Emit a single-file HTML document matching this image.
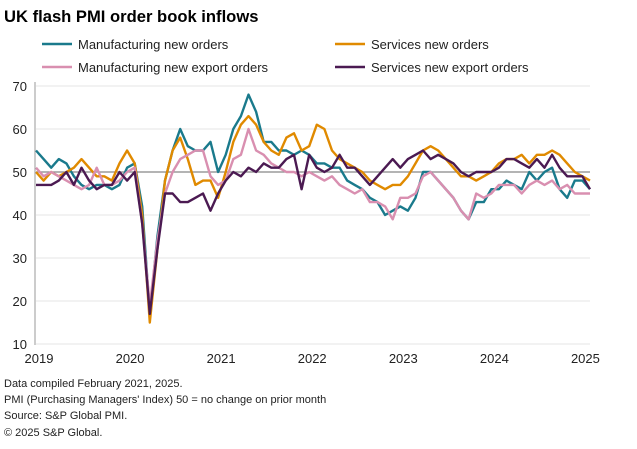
<!DOCTYPE html>
<html><head><meta charset="utf-8"><style>
body{margin:0;width:637px;height:444px;background:#fff;font-family:"Liberation Sans",Arial,sans-serif;overflow:hidden}
</style></head><body>
<svg width="637" height="444" xmlns="http://www.w3.org/2000/svg">
<text x="4" y="22" font-size="16.6" font-weight="bold" fill="#000">UK flash PMI order book inflows</text>
<g id="legend" font-size="13" fill="#222"></g>
<g id="grid"></g>
<g id="series"></g>
<g id="axes"></g>
<g font-size="11" fill="#222">
<text x="4" y="387">Data compiled February 2021, 2025.</text>
<text x="4" y="403">PMI (Purchasing Managers' Index) 50 = no change on prior month</text>
<text x="4" y="419">Source: S&amp;P Global PMI.</text>
<text x="4" y="436">© 2025 S&amp;P Global.</text>
</g>
</svg>
<script>
const yTicks=[10,20,30,40,50,60,70];
const xLabels=["2019","2020","2021","2022","2023","2024","2025"];
const seriesNames=["Manufacturing new orders","Services new orders","Manufacturing new export orders","Services new export orders"];
const mfgNewOrders=[55,53,51,53,52,49,47,46,47,47,46,47, 51,52,42,17,35,48,55,60,56,55,55,57, 50,54,60,63,68,64,57,57,55,55,54,55, 54,52,52,51,51,48,47,46,44,43,40,41, 42,41,44,50,50,48,46,44,41,39,43,43, 46,46,48,47,46,50,48,50,51,46,44,48, 48,46];
const svcNewOrders=[50,48,50,49,50,51,53,51,49,49,48,52, 55,52,40,15,32,48,55,58,53,47,48,48, 44,50,57,61,63,61,57,55,54,58,59,55, 56,61,60,55,53,52,51,50,48,47,46,47, 47,49,52,55,56,55,53,51,49,49,48,49, 50,52,53,53,54,52,54,54,55,54,52,50, 49,48];
const mfgExport=[51,49,50,49,48,47,46,47,51,47,47,48, 50,51,38,19,34,45,50,53,54,55,55,49, 47,48,53,54,60,55,54,52,51,50,50,49, 50,49,48,49,47,46,45,46,43,43,42,39, 44,44,45,49,50,48,46,44,41,39,45,44, 45,47,47,47,45,47,48,47,48,46,47,45, 45,45];
const svcExport=[47,47,47,48,50,47,51,48,46,47,47,50, 48,50,38,17,32,45,45,43,43,44,45,41, 45,48,50,49,51,50,52,51,51,53,54,46, 54,51,50,51,54,51,51,49,47,49,51,53, 51,53,54,55,53,54,53,52,50,49,50,50, 50,51,53,53,52,51,53,51,54,51,49,49, 49,46];
const colors=["#1a7a8c","#e08a00","#d98fb0","#4b1a52"];
const NS="http://www.w3.org/2000/svg";
const x0=36,x1=590,yTop=86,yBot=344;
const n=mfgNewOrders.length;
function xs(i){return x0+(x1-x0)*i/(n-1);}
function ys(v){return yBot-(v-10)/60*(yBot-yTop);}
function mk(t,a,p){const e=document.createElementNS(NS,t);for(const k in a)e.setAttribute(k,a[k]);p.appendChild(e);return e;}
const grid=document.getElementById('grid'),axes=document.getElementById('axes'),ser=document.getElementById('series'),leg=document.getElementById('legend');
yTicks.forEach(v=>{
 const l=mk('line',{x1:x0,x2:x1,y1:ys(v),y2:ys(v),stroke:v===50?'#888':'#e4e4e4','stroke-width':v===50?1.2:1},grid);
 
 
 const t=mk('text',{x:27,y:ys(v)+5,'text-anchor':'end','font-size':13,fill:'#222'},axes);
 t.textContent=v;
 
 
});
const ax=mk('line',{x1:x0-1,x2:x0-1,y1:yTop-4,y2:yBot+1,stroke:'#999'},axes);


xLabels.forEach((s,k)=>{
 const t=mk('text',{x:Math.min(xs(k*12)+3,588),y:363,'text-anchor':'middle','font-size':13,fill:'#222'},axes);
 t.textContent=s;
 
 
});
[mfgNewOrders,svcNewOrders,mfgExport,svcExport].forEach((d,si)=>{
 const p=mk('polyline',{points:d.map((v,i)=>xs(i).toFixed(1)+','+ys(v).toFixed(1)).join(' '),fill:'none',stroke:colors[si],'stroke-width':2.4,'stroke-linejoin':'round'},ser);
 
 
});
const lpos=[[42,44],[335,44],[42,67],[335,67]];
seriesNames.forEach((s,i)=>{
 const [lx,ly]=lpos[i];
 const l=mk('line',{x1:lx,x2:lx+30,y1:ly,y2:ly,stroke:colors[i],'stroke-width':2.6},leg);
 
 
 const t=mk('text',{x:lx+36,y:ly+5},leg);
 t.textContent=s;
 
 
});
</script>
</body></html>
